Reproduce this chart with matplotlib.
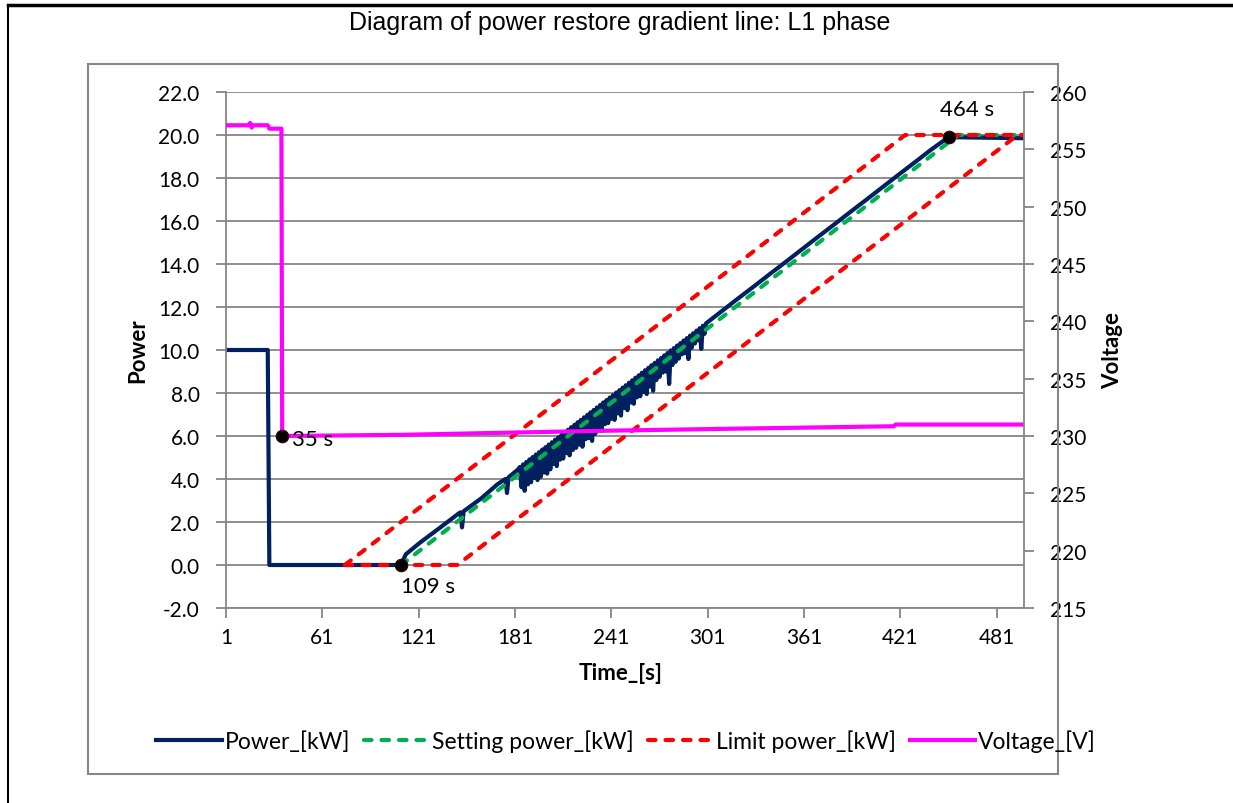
import matplotlib.pyplot as plt
from matplotlib.patches import Rectangle
from matplotlib.lines import Line2D
from matplotlib.ticker import FormatStrFormatter, MultipleLocator

# values (x axis = sample number)
head_time = [1, 27, 28, 110, 113, 122, 134, 146, 147, 148, 149, 160, 170, 175, 176, 177, 183]
head_kw = [10.0, 10.0, 0.0, 0.0, 0.50, 1.05, 1.72, 2.40, 2.45, 1.75, 2.50, 3.10, 3.75, 4.00, 3.35, 4.08, 4.45]

# noisy part of the ramp, one sample per second from 184 s to 300 s
band_time = list(range(184, 301))
band_kw = [4.56, 3.62, 4.68, 3.45, 4.79, 3.75, 4.91, 3.85, 5.02, 4.05,
           5.14, 3.95, 5.25, 4.10, 5.37, 4.30, 5.48, 4.25, 5.60, 4.45,
           5.71, 4.70, 5.83, 4.60, 5.94, 4.90, 6.06, 4.95, 6.18, 5.20,
           6.29, 5.10, 6.41, 5.35, 6.52, 5.45, 6.64, 5.60, 6.75, 5.50,
           6.87, 5.85, 6.98, 5.90, 7.10, 5.77, 7.21, 6.10, 7.33, 6.30,
           7.44, 6.25, 7.56, 6.55, 7.67, 6.60, 7.79, 6.80, 7.90, 6.75,
           8.02, 7.05, 8.13, 6.95, 8.25, 7.30, 8.36, 7.20, 8.48, 7.55,
           8.59, 7.50, 8.71, 7.80, 8.82, 7.85, 8.94, 8.05, 9.06, 7.95,
           9.17, 8.30, 9.29, 8.10, 9.40, 8.60, 9.52, 8.75, 9.63, 8.95,
           9.75, 9.00, 9.86, 8.42, 9.98, 9.30, 10.09, 9.45, 10.21, 9.60,
           10.32, 9.80, 10.44, 9.85, 10.55, 9.58, 10.67, 10.10, 10.78, 10.30,
           10.90, 10.45, 11.01, 10.05, 11.13, 10.75, 11.24]

tail_time = [310, 320, 330, 340, 350, 360, 370, 380, 390, 400, 410, 420, 430, 440, 451, 498]
tail_kw = [11.82, 12.40, 12.97, 13.55, 14.12, 14.70, 15.28, 15.85, 16.43, 17.00, 17.58, 18.16,
           18.73, 19.31, 19.90, 19.85]

power_time = head_time + band_time + tail_time
power_kw = head_kw + band_kw + tail_kw

setting_time = [110, 457, 498]
setting_kw = [0, 20, 20]

limit_up_time = [75, 424, 498]
limit_up_kw = [0, 20, 20]
limit_low_time = [75, 145, 494, 498]
limit_low_kw = [0, 0, 20, 20]

voltage_time = [1, 15, 16, 17, 18, 27, 28, 35.5, 36, 110, 180, 234, 300, 417, 418, 498]
voltage_v = [257.1, 257.1, 257.3, 256.9, 257.1, 257.1, 256.8, 256.8, 230.0, 230.1, 230.3, 230.45,
             230.6, 230.85, 231.0, 231.0]

event_time = [36, 110, 451]
event_kw = [6.0, 0.0, 19.9]
event_labels = ['35 s', '109 s', '464 s']

x_ticks = [1, 61, 121, 181, 241, 301, 361, 421, 481]

grey = '#868686'
font = 'Lato'
W, H = 1233, 804
dash = (1.8, 2.4)

fig = plt.figure(figsize=(W / 100, H / 100), dpi=100)

# outer frame lines and chart box
fig.add_artist(Line2D([8 / W, 1], [1 - 6 / H, 1 - 6 / H], color='black', lw=2.5))
fig.add_artist(Line2D([8 / W, 8 / W], [0, 1 - 6 / H], color='black', lw=1.5))
fig.add_artist(Rectangle((88 / W, 1 - 775 / H), (1058 - 88) / W, (775 - 65) / H,
                         fill=False, ec=grey, lw=1.5))

fig.text(620 / W, 1 - 23 / H, 'Diagram of power restore gradient line: L1 phase',
         ha='center', va='center', fontsize=18, family='Liberation Sans')

ax = fig.add_axes([226 / W, 1 - 609 / H, (1024 - 226) / W, (609 - 93) / H])
ax2 = ax.twinx()

ax.plot(power_time, power_kw, color='#002060', lw=3, label='Power_[kW]')
ax.plot(setting_time, setting_kw, color='#00B050', lw=3, dashes=dash,
        dash_capstyle='round', label='Setting power_[kW]')
ax.plot(limit_up_time, limit_up_kw, color='#FF0000', lw=3, dashes=dash,
        dash_capstyle='round', label='Limit power_[kW]')
ax.plot(limit_low_time, limit_low_kw, color='#FF0000', lw=3, dashes=dash,
        dash_capstyle='round')
ax2.plot(voltage_time, voltage_v, color='#FF00FF', lw=3, label='Voltage_[V]')

ax2.plot(event_time, event_kw, 'o', color='black', ms=9, mec='#3a0000', mew=0.8,
         transform=ax.transData, zorder=5)
offsets = [(10, -3), (27, -21), (19, 28)]
aligns = ['left', 'center', 'center']
for t, p, lab, off, ha in zip(event_time, event_kw, event_labels, offsets, aligns):
    ax2.annotate(lab, xy=(t, p), xycoords=ax.transData, xytext=off, textcoords='offset pixels',
                 ha=ha, va='center', fontsize=16, family=font)

ax.set_xlim(1, 498)
ax.set_ylim(-2, 22)
ax2.set_ylim(215, 260)
ax.set_xticks(x_ticks)
ax.yaxis.set_major_locator(MultipleLocator(2))
ax.yaxis.set_major_formatter(FormatStrFormatter('%.1f'))
ax2.yaxis.set_major_locator(MultipleLocator(5))

ax.yaxis.grid(True, color=grey, lw=1.3)
ax.set_axisbelow(True)
for s in ['top', 'right']:
    ax.spines[s].set_visible(False)
for s in ['top', 'left', 'bottom']:
    ax2.spines[s].set_visible(False)
for sp in [ax.spines['left'], ax.spines['bottom'], ax2.spines['right']]:
    sp.set_color(grey)
    sp.set_linewidth(1.3)

ax.tick_params(axis='y', length=7, width=1.3, color=grey, pad=12, labelsize=15)
ax.tick_params(axis='x', length=7, width=1.3, color=grey, pad=7, labelsize=15)
ax2.tick_params(axis='y', length=7, width=1.3, color=grey, pad=12, labelsize=15)
for lbl in ax.get_xticklabels() + ax.get_yticklabels() + ax2.get_yticklabels():
    lbl.set_family(font)

ax.set_ylabel('Power', fontsize=16, fontweight='bold', family=font)
ax.yaxis.set_label_coords(-0.097, 0.5)
ax2.set_ylabel('Voltage', fontsize=16, fontweight='bold', family=font)
ax2.yaxis.set_label_coords(1.098, 0.5)
ax.set_xlabel('Time_[s]', fontsize=16, fontweight='bold', family=font)
ax.xaxis.set_label_coords(0.495, -0.105)

h1, l1 = ax.get_legend_handles_labels()
h2, l2 = ax2.get_legend_handles_labels()
fig.legend(h1 + h2, l1 + l2, loc='center', bbox_to_anchor=(626 / W, 1 - 742 / H), ncol=4,
           frameon=False, handlelength=2.85, handletextpad=0.13, columnspacing=0.6,
           prop={'family': font, 'size': 16.5})

fig.savefig('out.png', dpi=100)
